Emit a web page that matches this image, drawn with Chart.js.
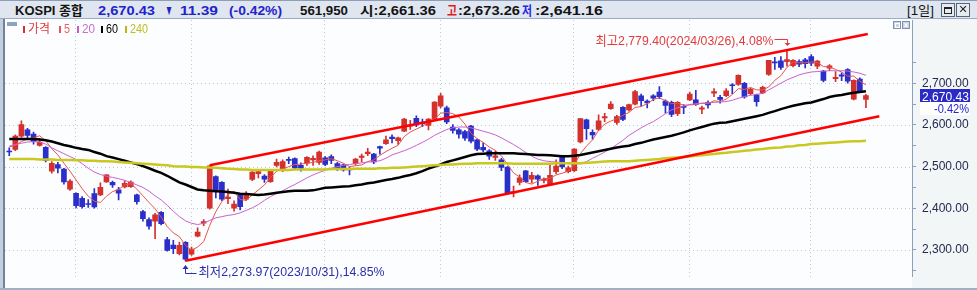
<!DOCTYPE html>
<html><head><meta charset="utf-8">
<script src="https://cdn.jsdelivr.net/npm/chart.js@4.4.1/dist/chart.umd.min.js"></script>
<style>
html,body{margin:0;padding:0;background:#fff;}
#win{position:relative;width:977px;height:290px;overflow:hidden;background:#fcfdff;font-family:"Liberation Sans","Noto Sans CJK KR",sans-serif;}
#c{position:absolute;left:0;top:0;}
#hdr{position:absolute;left:0;top:0;width:977px;height:19px;background:#dfe6f0;border-top:1px solid #8d9fb8;border-bottom:1px solid #9aabc3;box-sizing:border-box;z-index:2;}
.t{position:absolute;white-space:nowrap;transform-origin:0 0;}
#hdr .t{top:2px;font-weight:bold;font-size:13px;line-height:15px;color:#141414;}
#lframe{position:absolute;left:0;top:19px;width:3px;height:271px;background:#c4cfdd;border-right:2px solid #6f829e;z-index:2;}
#bframe{position:absolute;left:0;top:288px;width:977px;height:2px;background:#9fb0c8;z-index:2;}
.btn{position:absolute;top:3px;width:12px;height:12px;border:1px solid #56657c;background:#e6ebf1;z-index:3;}
.pic{position:absolute;top:21px;width:6px;height:6px;border:1px solid #7d92b0;background:#c9d3e1;z-index:3;}
#leg .t{top:22px;font-size:12px;line-height:14px;}
.lb{position:absolute;top:26px;width:2px;height:7px;}
</style></head>
<body>
<div id="win">
<canvas id="c" width="977" height="290"></canvas>
<div id="hdr">
 <span class="t" data-w="68" style="left:15px">KOSPI 종합</span>
 <span class="t" data-w="57" style="left:98px;color:#1f24c8">2,670.43</span>
 <span class="t" data-w="8" style="left:165px;color:#1f24c8;font-size:14px">▼</span>
 <span class="t" data-w="38" style="left:180px;color:#1f24c8">11.39</span>
 <span class="t" data-w="53" style="left:229px;color:#1f24c8">(-0.42%)</span>
 <span class="t" data-w="48" style="left:300px">561,950</span>
 <span class="t" data-w="76" style="left:360px">시:2,661.36</span>
 <span class="t" data-w="10" style="left:447px;color:#e01c1c">고</span>
 <span class="t" data-w="62" style="left:458px">:2,673.26</span>
 <span class="t" data-w="10" style="left:522px;color:#2626e0">저</span>
 <span class="t" data-w="68" style="left:535px">:2,641.16</span>
 <span class="t" data-w="27" style="left:907px;font-weight:normal">[1일]</span>
</div>
<div class="btn" style="left:941px"><div style="position:absolute;left:2px;top:3px;width:6px;height:4px;border:1px solid #222;border-top-width:2px"></div></div>
<div class="btn" style="left:956px;font:bold 11px/12px 'DejaVu Sans';text-align:center;color:#222">✕</div>
<div id="lframe"></div>
<div id="bframe"></div>
<div class="pic" style="left:893px"><div style="position:absolute;left:1px;top:1px;width:3px;height:3px;border:1px solid #fff"></div></div>
<div class="pic" style="left:902px;font:bold 7px/6px 'DejaVu Sans';color:#fff;text-align:center">x</div>
<div id="leg">
 <div style="position:absolute;left:7px;top:22px;width:10px;height:4px;background:#8ea3be"></div>
 <div class="lb" style="left:23px;background:#d03030"></div><span class="t" data-w="22" style="left:28px;color:#e03a3a">가격</span>
 <div class="lb" style="left:59px;background:#e05a5a"></div><span class="t" data-w="6" style="left:64px;color:#e86464">5</span>
 <div class="lb" style="left:77px;background:#c45ec4"></div><span class="t" data-w="13" style="left:82px;color:#cc6ccc">20</span>
 <div class="lb" style="left:101px;background:#000"></div><span class="t" data-w="12" style="left:106px;color:#000">60</span>
 <div class="lb" style="left:125px;background:#b8b818"></div><span class="t" data-w="18" style="left:130px;color:#bcbc1c">240</span>
</div>
</div>
<script>
// ---- data ----
const dates = ['2023/09/13','2023/09/14','2023/09/15','2023/09/18','2023/09/19','2023/09/20','2023/09/21','2023/09/22','2023/09/25','2023/09/26','2023/09/27',
'2023/10/04','2023/10/05','2023/10/06','2023/10/10','2023/10/11','2023/10/12','2023/10/13','2023/10/16','2023/10/17','2023/10/18','2023/10/19','2023/10/20','2023/10/23','2023/10/24','2023/10/25','2023/10/26','2023/10/27','2023/10/30','2023/10/31',
'2023/11/01','2023/11/02','2023/11/03','2023/11/06','2023/11/07','2023/11/08','2023/11/09','2023/11/10','2023/11/13','2023/11/14','2023/11/15','2023/11/16','2023/11/17','2023/11/20','2023/11/21','2023/11/22','2023/11/23','2023/11/24','2023/11/27','2023/11/28','2023/11/29','2023/11/30',
'2023/12/01','2023/12/04','2023/12/05','2023/12/06','2023/12/07','2023/12/08','2023/12/11','2023/12/12','2023/12/13','2023/12/14','2023/12/15','2023/12/18','2023/12/19','2023/12/20','2023/12/21','2023/12/22','2023/12/26','2023/12/27','2023/12/28',
'2024/01/02','2024/01/03','2024/01/04','2024/01/05','2024/01/08','2024/01/09','2024/01/10','2024/01/11','2024/01/12','2024/01/15','2024/01/16','2024/01/17','2024/01/18','2024/01/19','2024/01/22','2024/01/23','2024/01/24','2024/01/25','2024/01/26','2024/01/29','2024/01/30','2024/01/31',
'2024/02/01','2024/02/02','2024/02/05','2024/02/06','2024/02/07','2024/02/08','2024/02/13','2024/02/14','2024/02/15','2024/02/16','2024/02/19','2024/02/20','2024/02/21','2024/02/22','2024/02/23','2024/02/26','2024/02/27','2024/02/28','2024/02/29',
'2024/03/04','2024/03/05','2024/03/06','2024/03/07','2024/03/08','2024/03/11','2024/03/12','2024/03/13','2024/03/14','2024/03/15','2024/03/18','2024/03/19','2024/03/20','2024/03/21','2024/03/22','2024/03/25','2024/03/26','2024/03/27','2024/03/28','2024/03/29',
'2024/04/01','2024/04/02','2024/04/03','2024/04/04','2024/04/05','2024/04/08','2024/04/09','2024/04/11','2024/04/12','2024/04/15'];

const opens = [2537,2541,2573,2588,2578,2551,2546,2489,2505,2494,
2446,2436,2424,2410,2435,2432,2463,2462,2444,2451,
2452,2432,2392,2373,2369,2390,2325,2312,2291,2318,
2290,2333,2364,2400,2476,2462,2423,2400,2433,2422,
2469,2483,2477,2464,2503,2490,2517,2519,2503,2508,
2516,2510,2521,2524,2507,2504,2494,2507,2522,2531,
2530,2548,2555,2571,2562,2585,2597,2616,2607,2599,
2614,2645,2641,2595,2588,2584,2597,2564,2546,2538,
2522,2516,2499,2437,2462,2490,2470,2478,2467,2456,
2488,2523,2488,2490,2559,2612,2582,2589,2617,2639,
2606,2642,2636,2650,2670,2657,2670,2679,2657,2654,
2627,2643,2660,2660,2638,2654,2676,2666,2670,2695,
2697,2700,2675,2672,2677,2721,2750,2754,2752,2742,
2752,2756,2764,2741,2729,2736,2711,2720,2733,2662,
2710,2661.36];
const highs = [2545,2576,2610,2592,2583,2568,2548,2512,2510,2496,
2469,2437,2428,2421,2447,2461,2481,2465,2450,2466,
2466,2434,2395,2377,2388,2392,2330,2323,2319,2320,
2307,2353,2373,2503,2478,2464,2446,2418,2436,2440,
2488,2492,2481,2493,2518,2516,2523,2521,2509,2524,
2526,2537,2524,2528,2510,2506,2499,2520,2530,2544,
2532,2549,2573,2576,2571,2616,2611,2622,2614,2615,
2656,2676,2645,2601,2591,2587,2599,2566,2557,2541,
2537,2520,2500,2453,2480,2491,2486,2480,2473,2503,
2516,2525,2501,2543,2616,2614,2588,2624,2628,2656,
2623,2644,2650,2683,2674,2660,2673,2692,2660,2657,
2656,2649,2679,2683,2645,2658,2687,2671,2687,2699,
2720,2702,2688,2674,2693,2755,2762,2764,2779.40,2757,
2756,2760,2769,2755,2731,2745,2728,2725,2735,2708,
2713,2673.26];
const lows = [2526,2538,2570,2566,2554,2549,2511,2484,2485,2458,
2443,2401,2400,2402,2400,2430,2462,2450,2420,2449,
2450,2410,2369,2350,2327,2360,2297,2291,2288,2273.97,
2287,2331,2358,2398,2425,2418,2411,2393,2396,2419,
2466,2473,2462,2462,2499,2488,2507,2494,2489,2503,
2503,2505,2502,2507,2491,2489,2480,2504,2511,2526,
2507,2530,2553,2557,2553,2584,2589,2596,2596,2588,
2613,2641,2603,2580,2568,2563,2557,2538,2536,2517,
2515,2490,2433,2427,2456,2462,2461,2455,2461,2455,
2483,2495,2485,2488,2557,2565,2566,2586,2608,2637,
2601,2610,2633,2648,2645,2641,2658,2663,2628,2620,
2622,2627,2658,2647,2627,2640,2668,2652,2668,2675,
2695,2664,2672,2645,2675,2719,2733,2733,2741,2739,
2740,2737,2742,2735,2703,2730,2704,2706,2700,2660,
2678,2641.16];
const closes = [2535,2573,2601,2575,2560,2559,2515,2508,2496,2463,
2465,2406,2404,2409,2403,2450,2480,2456,2436,2460,
2463,2416,2375,2357,2384,2363,2299,2303,2311,2278,
2302,2343,2368,2502,2444,2422,2427,2410,2404,2433,
2487,2488,2470,2491,2510,2512,2515,2497,2496,2522,
2520,2535,2505,2515,2495,2492,2492,2518,2525,2535,
2511,2544,2564,2567,2569,2614,2600,2600,2603,2614,
2655,2670,2607,2587,2578,2568,2561,2542,2540,2525,
2526,2498,2436,2440,2473,2464,2479,2470,2470,2479,
2501,2499,2497,2542,2615,2591,2576,2610,2620,2650,
2620,2613,2649,2680,2658,2653,2664,2668,2647,2625,
2654,2642,2674,2649,2641,2648,2680,2661,2682,2694,
2719,2667,2686,2656,2690,2755,2749,2738,2757,2755,
2746,2747,2748,2753,2707,2742,2714,2717,2705,2707,
2682,2670.43];

const ma5 = [2547,2551,2560,2566,
2569,2574,2562,2543,2528,2508,2489,2468,2447,2429,
2417,2414,2429,2440,2445,2456,2459,2446,2430,2414,
2399,2379,2356,2341,2332,2311,2299,2307,2320,2359,
2392,2416,2433,2441,2421,2419,2432,2444,2456,2474,
2489,2494,2500,2505,2506,2508,2510,2514,2516,2519,
2514,2508,2500,2502,2504,2512,2516,2527,2536,2544,
2551,2572,2583,2590,2597,2606,2614,2628,2630,2627,
2619,2602,2580,2567,2558,2547,2539,2526,2505,2485,
2475,2462,2458,2465,2471,2472,2480,2484,2489,2504,
2531,2549,2564,2587,2602,2609,2615,2623,2630,2642,
2644,2651,2661,2665,2658,2651,2652,2647,2648,2649,
2652,2651,2658,2656,2662,2673,2687,2685,2690,2684,
2684,2691,2707,2718,2738,2751,2749,2749,2751,2750,
2740,2739,2733,2727,2717,2717,2705,2696];
const ma20 = [2549,2553,2556,2559,2560,2559,2554,2545,2538,2531,
2524,2517,2507,2496,2487,2481,2477,2474,2471,2467,
2462,2456,2450,2441,2430,2420,2407,2393,2380,2370,
2364,2361,2364,2371,2377,2380,2383,2385,2389,2395,
2401,2409,2419,2428,2435,2442,2450,2457,2465,2473,
2480,2486,2491,2496,2500,2503,2505,2507,2509,2511,
2512,2514,2520,2528,2533,2538,2544,2551,2558,2566,
2575,2582,2589,2593,2595,2595,2593,2589,2585,2581,
2576,2569,2561,2553,2544,2534,2525,2518,2514,2512,
2511,2509,2507,2506,2507,2512,2520,2527,2535,2543,
2553,2563,2575,2584,2593,2601,2608,2617,2627,2636,
2641,2645,2649,2651,2652,2653,2654,2655,2656,2659,
2664,2668,2671,2673,2676,2684,2692,2700,2708,2714,
2720,2724,2727,2728,2729,2730,2730,2730,2729,2727,
2724,2719];
const ma60 = [2566,2566,2566,2566,2566,2565,2563,2560,2556,2552,
2549,2545,2542,2540,2535,2531,2525,2522,2518,2514,
2510,2506,2501,2496,2490,2485,2478,2470,2462,2457,
2451,2445,2443,2442,2441,2440,2439,2437,2435,2434,
2433,2432,2433,2435,2437,2439,2441,2442,2442,2442,
2443,2446,2449,2450,2451,2452,2453,2455,2457,2460,
2462,2465,2468,2470,2473,2477,2480,2484,2489,2495,
2500,2505,2511,2515,2519,2523,2527,2530,2531,2532,
2532,2532,2532,2532,2531,2530,2529,2528,2528,2527,
2526,2525,2525,2526,2528,2531,2534,2537,2540,2543,
2546,2548,2550,2554,2557,2561,2565,2568,2571,2574,
2578,2582,2587,2591,2595,2599,2603,2605,2606,2609,
2612,2615,2618,2621,2624,2629,2633,2638,2642,2646,
2649,2652,2654,2658,2662,2667,2670,2672,2675,2677,
2679,2681];
const ma240 = [2518,2518,2518,2518,2518,2517,2517,2517,2516,2516,
2516,2515,2515,2514,2514,2513,2513,2512,2511,2510,
2509,2508,2507,2506,2505,2504,2503,2501,2500,2500,
2499,2499,2498,2498,2497,2496,2495,2494,2493,2493,
2492,2492,2492,2492,2492,2492,2492,2493,2493,2493,
2493,2493,2493,2494,2494,2494,2494,2495,2495,2495,
2495,2496,2496,2497,2497,2498,2499,2500,2501,2502,
2503,2504,2505,2505,2506,2507,2507,2508,2508,2508,
2508,2508,2508,2507,2507,2507,2507,2507,2507,2507,
2508,2508,2508,2508,2508,2509,2510,2511,2512,2513,
2513,2513,2513,2514,2515,2516,2517,2518,2520,2521,
2522,2523,2524,2526,2527,2529,2530,2532,2533,2535,
2536,2538,2539,2541,2542,2544,2545,2546,2548,2549,
2551,2552,2554,2555,2556,2557,2558,2559,2560,2561,
2561,2562];

// trend channel lines (index position, value)
const upperTrendX = [33, 141.3];
const upperTrendY = [2503, 2818];
const lowerTrendX = [29, 143.2];
const lowerTrendY = [2273.97, 2621];

const yTicks = [2300, 2400, 2500, 2600, 2700];
const highDate = '2024/03/26', highValue = 2779.40;
const lowDate = '2023/10/31', lowValue = 2273.97;
const highText = '최고2,779.40(2024/03/26),4.08%';
const lowText = '최저2,273.97(2023/10/31),14.85%';
const lastChangeText = '-0.42%';

// ---- html text fitting ----
document.querySelectorAll('.t[data-w]').forEach(el => {
  const w = el.getBoundingClientRect().width;
  const target = +el.dataset.w;
  if (w > 0) el.style.transform = 'scaleX(' + (target / w) + ')';
});

// ---- chart ----
const FONT = '"Liberation Sans","Noto Sans CJK KR",sans-serif';
Chart.defaults.font.family = FONT;
const RED = '#d4302c', BLUE = '#2b2fc9';
const idx = dates.map((_, i) => i);
const candleColor = idx.map(i => closes[i] >= opens[i] ? RED : BLUE);
const fmt = v => v.toLocaleString('en-US', {minimumFractionDigits: 2, maximumFractionDigits: 2});
const monthStarts = idx.filter(i => i > 0 && dates[i].slice(5, 7) !== dates[i - 1].slice(5, 7));

function fitText(ctx, text, x, baseline, width, align, color, font) {
  ctx.save();
  ctx.font = font; ctx.fillStyle = color; ctx.textAlign = 'left'; ctx.textBaseline = 'alphabetic';
  const w = ctx.measureText(text).width;
  const left = align === 'right' ? x - width : x;
  ctx.translate(left, baseline); ctx.scale(width / w, 1);
  ctx.fillText(text, 0, 0);
  ctx.restore();
}
function seg(ctx, x1, y1, x2, y2) { ctx.beginPath(); ctx.moveTo(x1, y1); ctx.lineTo(x2, y2); ctx.stroke(); }

const htsPlugin = {
  id: 'hts',
  beforeDraw(chart) {
    const {ctx, chartArea: a, width, height} = chart;
    const xs = chart.scales.x, ys = chart.scales.y;
    ctx.save();
    ctx.fillStyle = '#fcfdff'; ctx.fillRect(0, 0, width, height);
    ctx.fillStyle = '#f3f6f6'; ctx.fillRect(a.right, a.top - 1, width - a.right, height - a.top + 1);
    ctx.strokeStyle = '#c2c7ce'; ctx.lineWidth = 1; ctx.setLineDash([1, 3]);
    yTicks.forEach(v => { const py = Math.round(ys.getPixelForValue(v)) + 0.5; seg(ctx, a.left, py, a.right, py); });
    monthStarts.forEach(i => { const px = Math.round(xs.getPixelForValue(i)) - 0.5; seg(ctx, px, a.top, px, a.bottom); });
    ctx.restore();
  },
  afterDraw(chart) {
    const {ctx, chartArea: a} = chart;
    const xs = chart.scales.x, ys = chart.scales.y;
    const f13 = '13px ' + FONT, f12 = '12px ' + FONT;
    // highest annotation
    const hx = Math.round(xs.getPixelForValue(dates.indexOf(highDate))) + 0.5;
    const hy = Math.round(ys.getPixelForValue(highValue));
    ctx.save();
    ctx.strokeStyle = '#e23b3b'; ctx.fillStyle = '#e23b3b'; ctx.lineWidth = 1;
    seg(ctx, hx - 13, hy - 10.5, hx, hy - 10.5);
    seg(ctx, hx, hy - 10.5, hx, hy - 6);
    ctx.beginPath(); ctx.moveTo(hx - 3, hy - 7); ctx.lineTo(hx + 3, hy - 7); ctx.lineTo(hx, hy - 4); ctx.closePath(); ctx.fill();
    ctx.restore();
    fitText(ctx, highText, hx - 14, hy - 5, 178, 'right', '#e23b3b', f13);
    // lowest annotation
    const lx = Math.round(xs.getPixelForValue(dates.indexOf(lowDate))) + 0.5;
    const ly = Math.round(ys.getPixelForValue(lowValue));
    ctx.save();
    ctx.strokeStyle = '#2b2fa8'; ctx.fillStyle = '#2b2fa8'; ctx.lineWidth = 1;
    seg(ctx, lx, ly + 7, lx, ly + 12.5);
    seg(ctx, lx, ly + 12.5, lx + 11, ly + 12.5);
    ctx.beginPath(); ctx.moveTo(lx - 3, ly + 8); ctx.lineTo(lx + 3, ly + 8); ctx.lineTo(lx, ly + 4); ctx.closePath(); ctx.fill();
    ctx.restore();
    fitText(ctx, lowText, lx + 13, ly + 14.5, 186, 'left', '#2b2fa8', f13);
    // current price tag
    const last = closes[closes.length - 1];
    const py = Math.round(ys.getPixelForValue(last));
    ctx.save();
    ctx.fillStyle = '#2a2ac4'; ctx.fillRect(a.right + 8, py - 7, 50, 13);
    ctx.fillStyle = '#ffffff'; ctx.fillRect(a.right + 8, py + 6, 50, 13);
    ctx.restore();
    fitText(ctx, fmt(last), a.right + 10, py + 4.5, 47, 'left', '#ffffff', f12);
    fitText(ctx, lastChangeText, a.right + 57, py + 17, 35, 'right', '#2323d0', f12);
  }
};

const pts = arr => idx.map(i => ({x: i, y: arr[i]}));
new Chart(document.getElementById('c'), {
  type: 'bar',
  data: {
    datasets: [
      {type: 'line', data: upperTrendX.map((x, k) => ({x, y: upperTrendY[k]})), borderColor: '#ff0000', borderWidth: 2.5, pointRadius: 0, order: 0},
      {type: 'line', data: lowerTrendX.map((x, k) => ({x, y: lowerTrendY[k]})), borderColor: '#ff0000', borderWidth: 2.5, pointRadius: 0, order: 0},
      {type: 'line', label: '240', data: pts(ma240), borderColor: '#c8c81e', borderWidth: 2.5, pointRadius: 0, tension: 0, order: 1},
      {type: 'line', label: '60', data: pts(ma60), borderColor: '#000000', borderWidth: 2.5, pointRadius: 0, tension: 0, order: 2},
      {type: 'line', label: '20', data: pts(ma20), borderColor: '#c964cc', borderWidth: 1, pointRadius: 0, tension: 0, order: 3},
      {type: 'line', label: '5', data: pts(ma5), borderColor: '#e8564e', borderWidth: 1, pointRadius: 0, tension: 0, order: 4},
      {type: 'bar', label: 'body', data: idx.map(i => ({x: i, y: [opens[i], closes[i]]})), backgroundColor: candleColor, barThickness: 5, minBarLength: 1, grouped: false, order: 5},
      {type: 'bar', label: 'wick', data: idx.map(i => ({x: i, y: [lows[i], highs[i]]})), backgroundColor: candleColor, barThickness: 1, grouped: false, order: 6}
    ]
  },
  options: {
    responsive: false, animation: false, events: [],
    layout: {padding: {top: 20, left: 5, right: 0, bottom: 2}},
    plugins: {legend: {display: false}, tooltip: {enabled: false}},
    scales: {
      x: {type: 'linear', min: -0.7, max: 148.58, display: false, offset: false},
      y: {
        type: 'linear', position: 'right', min: 2235.6, max: 2851.7,
        afterFit: s => { s.width = 65; },
        afterBuildTicks: s => { s.ticks = s.ticks.filter(t => t.value >= 2250 && t.value <= 2750); },
        ticks: {stepSize: 50, includeBounds: false, padding: 6, color: '#232a4e', font: {size: 12}, autoSkip: false,
          callback: v => (yTicks.includes(v) ? fmt(v) : '')},
        grid: {drawOnChartArea: false, drawTicks: true, tickLength: 4, tickColor: '#8da0bb', tickWidth: 1},
        border: {display: true, color: '#8da0bb', width: 1}
      }
    }
  },
  plugins: [htsPlugin]
});
</script>
</body></html>
